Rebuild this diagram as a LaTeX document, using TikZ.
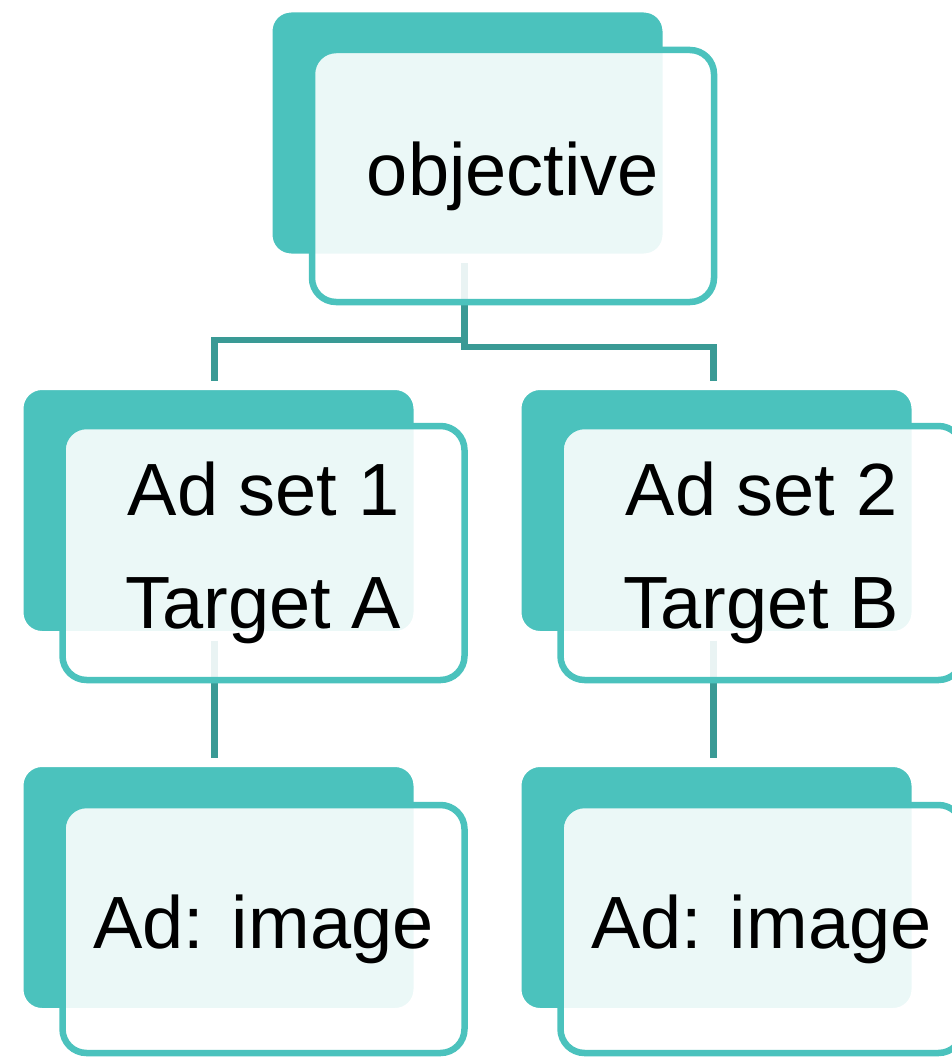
\documentclass[tikz,border=0pt]{standalone}
\usepackage{fontspec}
\setmainfont{Liberation Sans}
\definecolor{teal1}{HTML}{4BC2BD}
\definecolor{conncol}{HTML}{3A9A95}
\begin{document}
\begin{tikzpicture}[x=1pt,y=-1pt,
  backbox/.style={fill=teal1,draw=white,line width=3pt,rounded corners=20pt,minimum width=393pt,minimum height=244pt,inner sep=0pt,outer sep=0pt},
  frontbox/.style={fill=white,fill opacity=0.89,text opacity=1,draw=teal1,draw opacity=1,line width=6.5pt,rounded corners=24pt,minimum width=402pt,minimum height=252pt,inner sep=0pt,outer sep=0pt,align=center,font=\fontsize{74}{113}\selectfont},
  conn/.style={draw=conncol,line width=6.5pt}]
\useasboundingbox (0,0) rectangle (951,1057);
% back boxes
\node[backbox] (objB) at (467.5,133) {};
\node[backbox] (s1B) at (218.5,510.5) {};
\node[backbox] (s2B) at (716.5,510.5) {};
\node[backbox] (a1B) at (218.5,887.5) {};
\node[backbox] (a2B) at (716.5,887.5) {};
% connectors
\draw[conn] ([xshift=-3pt,yshift=-8pt]objB.south) -- ++(0,77) -| ([xshift=-4pt,yshift=8pt]s1B.north);
\draw[conn] ([xshift=-3pt,yshift=-8pt]objB.south) -- ++(0,84) -| ([xshift=-3pt,yshift=8pt]s2B.north);
\draw[conn] ([xshift=-4pt,yshift=-8pt]s1B.south) -- ([xshift=-4pt,yshift=8pt]a1B.north);
\draw[conn] ([xshift=-3pt,yshift=-8pt]s2B.south) -- ([xshift=-3pt,yshift=8pt]a2B.north);
% front boxes
\node[frontbox] (obj) at (513,176) {\raisebox{-5pt}{objective}};
\node[frontbox,minimum height=254pt] (s1) at (263.5,553) {\raisebox{-4pt}{Ad set 1}\\\raisebox{-4pt}{Target A}};
\node[frontbox,minimum height=254pt] (s2) at (761.5,553) {\raisebox{-4pt}{Ad set 2}\\\raisebox{-4pt}{Target B}};
\node[frontbox,minimum height=248pt] (a1) at (263.5,929) {Ad: image};
\node[frontbox,minimum height=248pt] (a2) at (761.5,929) {Ad: image};
\end{tikzpicture}
\end{document}
